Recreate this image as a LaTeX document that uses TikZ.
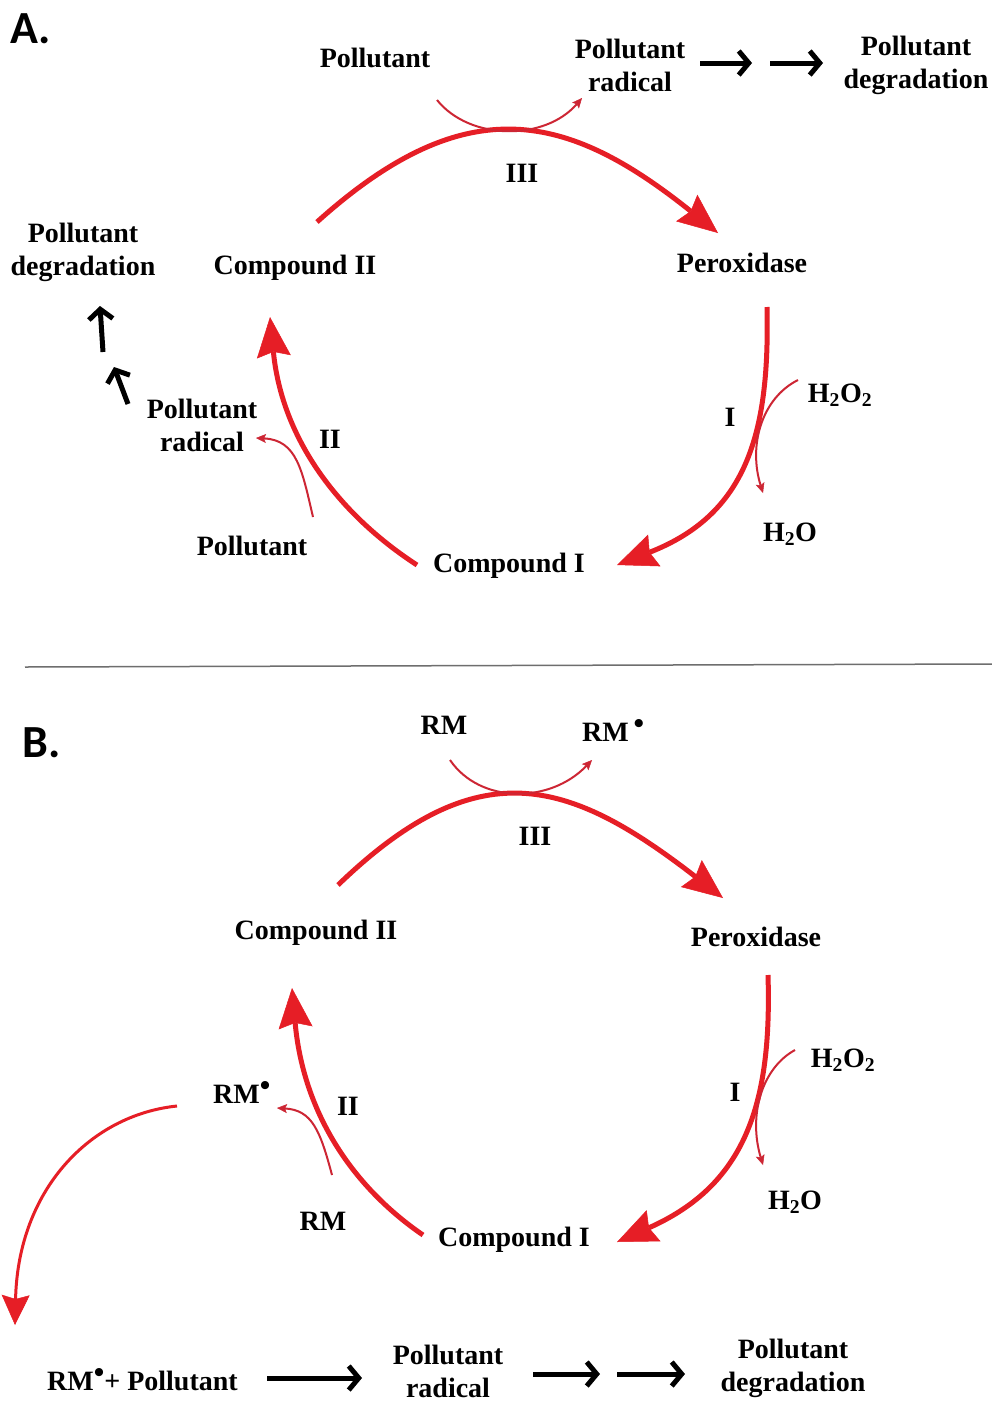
\documentclass[tikz,border=0pt]{standalone}
\usepackage{fontspec}
\setmainfont{Liberation Serif}
\newfontfamily\panelfont{Carlito}
\usetikzlibrary{arrows.meta}
\definecolor{cycred}{RGB}{230,30,38}
\definecolor{thinred}{RGB}{205,38,52}
\definecolor{sepgray}{RGB}{110,110,110}
\newcommand{\radot}{\raisebox{8pt}{\fontsize{30}{30}\selectfont •}}
\begin{document}
\begin{tikzpicture}[x=1pt,y=-1pt,
  lbl/.style={font=\fontsize{28}{33}\selectfont\bfseries, align=center, inner sep=0pt},
  panel/.style={font=\panelfont\bfseries\fontsize{46}{46}\selectfont, inner sep=0pt, anchor=base west},
  bigarc/.style={draw=cycred, line width=5pt, -{Stealth[length=40pt,width=34pt,inset=5pt,line width=0.5pt]}},
  thinarc/.style={draw=thinred, line width=2pt, -{Stealth[length=10pt,width=9pt,inset=2pt,line width=0.5pt]}},
  midarc/.style={draw=cycred, line width=3pt, -{Stealth[length=30pt,width=28pt,inset=4pt,line width=0.5pt]}},
  blk/.style={draw=black, line width=5pt, -{Straight Barb[length=10pt,width=24pt,line width=5pt]}}
]
\useasboundingbox (0,0) rectangle (992,1401);
\fill[white] (0,0) rectangle (992,1401);

% ---------------- Panel A ----------------
\node[panel] (pA) at (10,43) {A.};
\node[lbl] (polA) at (375,58) {Pollutant};
\node[lbl] (radA) at (630,65) {Pollutant\\radical};
\node[lbl] (degA) at (916,65) {Pollutant\\degradation};
\node[lbl] (IIIa) at (522,173) {III};
\node[lbl] (perA) at (742,263) {Peroxidase};
\node[lbl] (c2A) at (295,268) {Compound II};
\node[lbl] (degA2) at (83,252) {Pollutant\\degradation};
\node[lbl] (radA2) at (202,425) {Pollutant\\radical};
\node[lbl] (IIa) at (330,439) {II};
\node[lbl] (polA2) at (252,546) {Pollutant};
\node[lbl] (c1A) at (509,566) {Compound I};
\node[lbl] (h2o2A) at (840,395) {H\textsubscript{2}O\textsubscript{2}};
\node[lbl] (Ia) at (730,417) {I};
\node[lbl] (h2oA) at (790,534) {H\textsubscript{2}O};

% arc endpoints A
\coordinate (a3s) at (317,222);
\coordinate (a3e) at (718,233);
\coordinate (a1s) at (767,307);
\coordinate (a1e) at (617,565);
\coordinate (a2s) at (417,565);
\coordinate (a2e) at (270,317);

\draw[bigarc] (a3s) .. controls (467,87) and (568,113) .. (a3e);
\draw[bigarc] (a1s) .. controls (770,437) and (745,515) .. (a1e);
\draw[bigarc] (a2s) .. controls (340,515) and (282,440) .. (a2e);

% thin side reactions A
\coordinate (t3s) at (437,100);
\coordinate (t3e) at (582,98);
\draw[thinarc] (t3s) .. controls (470,141) and (545,141) .. (t3e);
\coordinate (t1s) at (798,380);
\coordinate (t1e) at (763,493);
\draw[thinarc] (t1s) .. controls (762,398) and (748,445) .. (t1e);
\coordinate (t2s) at (313,517);
\coordinate (t2e) at (256,438);
\draw[thinarc] (t2s) .. controls (302,470) and (297,440) .. (t2e);

% black arrows A
\coordinate (ba1s) at (700,63); \coordinate (ba1e) at (752,63);
\coordinate (ba2s) at (770,63); \coordinate (ba2e) at (823,63);
\draw[blk] (ba1s) -- (ba1e);
\draw[blk] (ba2s) -- (ba2e);
\coordinate (ba3s) at (103,352); \coordinate (ba3e) at (100,306);
\coordinate (ba4s) at (128,404); \coordinate (ba4e) at (114,367);
\draw[blk] (ba3s) -- (ba3e);
\draw[blk] (ba4s) -- (ba4e);

% separator
\draw[sepgray, line width=1.5pt] (25,667) -- (992,664);

% ---------------- Panel B ----------------
\node[panel] (pB) at (22,757) {B.};
\node[lbl] (rmB) at (444,725) {RM};
\node[lbl, anchor=base west] (rmdB) at (582,741) {RM\,\radot};
\node[lbl] (IIIb) at (535,836) {III};
\node[lbl] (c2B) at (316,933) {Compound II};
\node[lbl] (perB) at (756,937) {Peroxidase};
\node[lbl] (h2o2B) at (843,1060) {H\textsubscript{2}O\textsubscript{2}};
\node[lbl] (Ib) at (735,1092) {I};
\node[lbl] (h2oB) at (795,1202) {H\textsubscript{2}O};
\node[lbl, anchor=base west] (rmd2B) at (213,1103) {RM\radot};
\node[lbl] (IIb) at (348,1106) {II};
\node[lbl] (rm2B) at (323,1221) {RM};
\node[lbl] (c1B) at (514,1240) {Compound I};
\node[lbl, anchor=base west] (startB) at (47,1390) {RM\radot+ Pollutant};
\node[lbl] (radB) at (448,1371) {Pollutant\\radical};
\node[lbl] (degB) at (793,1368) {Pollutant\\degradation};

\coordinate (b3s) at (338,885);
\coordinate (b3e) at (723,898);
\coordinate (b1s) at (768,975);
\coordinate (b1e) at (617,1242);
\coordinate (b2s) at (423,1235);
\coordinate (b2e) at (292,988);

\draw[bigarc] (b3s) .. controls (478,750) and (568,778) .. (b3e);
\draw[bigarc] (b1s) .. controls (772,1105) and (745,1185) .. (b1e);
\draw[bigarc] (b2s) .. controls (350,1185) and (303,1110) .. (b2e);

\coordinate (u3s) at (450,760);
\coordinate (u3e) at (592,760);
\draw[thinarc] (u3s) .. controls (480,804) and (550,804) .. (u3e);
\coordinate (u1s) at (795,1050);
\coordinate (u1e) at (763,1165);
\draw[thinarc] (u1s) .. controls (762,1068) and (748,1115) .. (u1e);
\coordinate (u2s) at (332,1175);
\coordinate (u2e) at (277,1108);
\draw[thinarc] (u2s) .. controls (320,1130) and (312,1110) .. (u2e);

% big left curve
\coordinate (lcs) at (177,1106);
\coordinate (lce) at (15,1325);
\draw[midarc] (lcs) .. controls (90,1115) and (18,1190) .. (lce);

% black arrows B
\coordinate (bb1s) at (267,1378); \coordinate (bb1e) at (362,1378);
\coordinate (bb2s) at (533,1374); \coordinate (bb2e) at (600,1374);
\coordinate (bb3s) at (617,1374); \coordinate (bb3e) at (685,1374);
\draw[blk] (bb1s) -- (bb1e);
\draw[blk] (bb2s) -- (bb2e);
\draw[blk] (bb3s) -- (bb3e);
\end{tikzpicture}
\end{document}
